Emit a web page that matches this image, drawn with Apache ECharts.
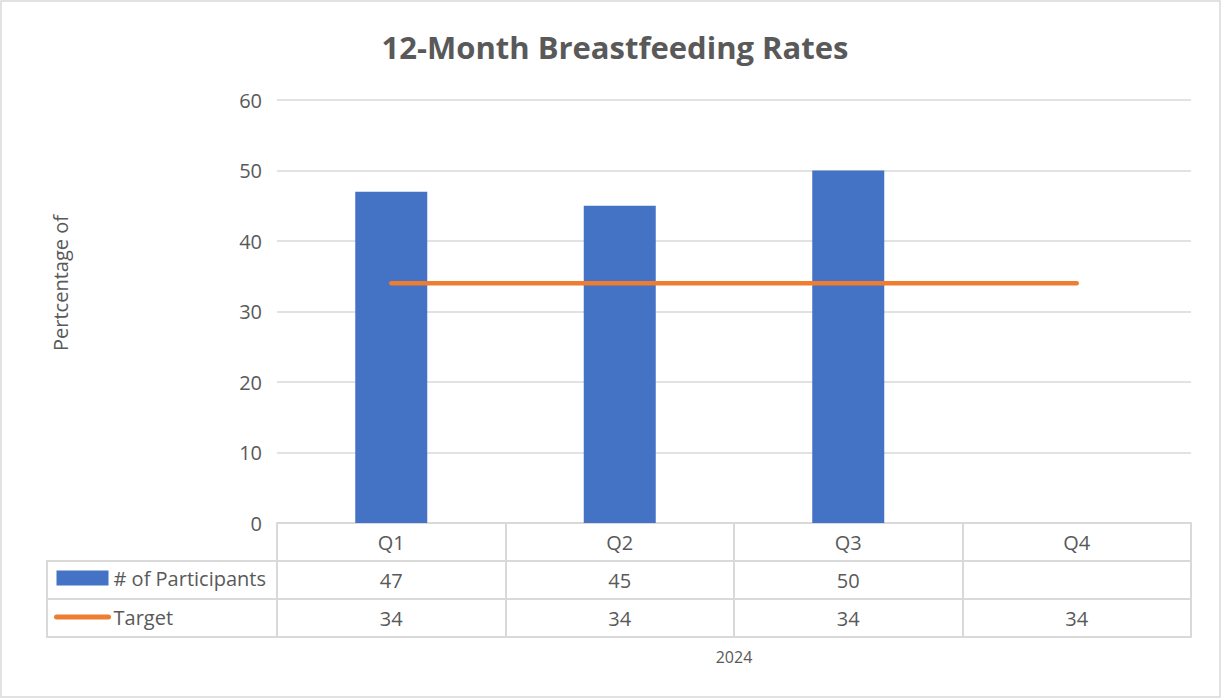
<!DOCTYPE html>
<html>
<head>
<meta charset="utf-8">
<title>12-Month Breastfeeding Rates</title>
<script src="https://cdn.jsdelivr.net/npm/echarts@6/dist/echarts.min.js"></script>
<style>
  html, body { margin: 0; padding: 0; background: #fff; }
  #chart { width: 1230px; height: 700px; }
</style>
</head>
<body>
<div id="chart"></div>
<script>
// data
const quarters = ['Q1', 'Q2', 'Q3', 'Q4']
const participants = [47, 45, 50, null]
const target = [34, 34, 34, 34]
const yTicks = [0, 10, 20, 30, 40, 50, 60]

const FONT = 'Open Sans'
const TEXT = '#595959'
const GRID = '#d9d9d9'

const chart = echarts.init(document.getElementById('chart'), null, { renderer: 'svg' })

// one x axis per data-table row
function tableAxis(offset, labels) {
  return {
    type: 'category',
    position: 'bottom',
    offset: offset,
    data: quarters,
    boundaryGap: true,
    axisLine: { show: true, lineStyle: { color: GRID, width: 2 } },
    axisTick: { show: true, length: 38, interval: 0, lineStyle: { color: GRID, width: 2 } },
    axisLabel: {
      interval: 0,
      margin: 19,
      verticalAlign: 'middle',
      fontFamily: FONT,
      fontSize: 20,
      color: TEXT,
      formatter: (v, i) => (labels[i] == null ? '' : String(labels[i]))
    },
    splitLine: { show: false }
  }
}

const lastAxis = {
  type: 'category',
  position: 'bottom',
  offset: 114,
  data: quarters,
  axisLine: { show: true, lineStyle: { color: GRID, width: 2 } },
  axisTick: { show: false },
  axisLabel: { show: false },
  name: '2024',
  nameLocation: 'middle',
  nameGap: 12,
  nameTextStyle: { fontFamily: FONT, fontSize: 16, color: TEXT }
}

chart.setOption({
  animation: false,
  title: {
    text: '12-Month Breastfeeding Rates',
    left: 610,
    top: 26,
    textAlign: 'center',
    textStyle: { fontFamily: FONT, fontSize: 31, fontWeight: 'bold', color: TEXT }
  },
  legend: {
    orient: 'vertical',
    left: 54,
    top: 568,
    padding: 0,
    itemWidth: 52,
    itemHeight: 15,
    itemGap: 19,
    textStyle: { fontFamily: FONT, fontSize: 20, lineHeight: 20, color: TEXT },
    data: [
      { name: '# of Participants', icon: 'rect' },
      {
        name: 'Target',
        itemStyle: { opacity: 0 },
        lineStyle: { color: '#ed7d31', width: 5, cap: 'round' }
      }
    ]
  },
  grid: { left: 277, right: 39, top: 100, bottom: 177, containLabel: false },
  xAxis: [
    tableAxis(0, quarters),
    tableAxis(38, participants),
    tableAxis(76, target),
    lastAxis
  ],
  yAxis: {
    type: 'value',
    min: yTicks[0],
    max: yTicks[yTicks.length - 1],
    interval: 10,
    axisLine: { show: false },
    axisTick: { show: false },
    axisLabel: { margin: 15, fontFamily: FONT, fontSize: 20, color: TEXT },
    splitLine: { lineStyle: { color: GRID, width: 1.5 } }
  },
  graphic: [
    {
      type: 'rect',
      shape: { x: 1, y: 1, width: 1219, height: 696 },
      style: { fill: 'none', stroke: GRID, lineWidth: 1.5 },
      silent: true
    },
    {
      type: 'text',
      x: 60,
      y: 283,
      rotation: Math.PI / 2,
      style: {
        text: 'Pertcentage of',
        fontFamily: FONT,
        fontSize: 20,
        fill: TEXT,
        align: 'center',
        verticalAlign: 'middle'
      }
    },
    // legend column of the data table
    { type: 'line', shape: { x1: 47, y1: 561, x2: 277, y2: 561 }, style: { stroke: GRID, lineWidth: 2 } },
    { type: 'line', shape: { x1: 47, y1: 599, x2: 277, y2: 599 }, style: { stroke: GRID, lineWidth: 2 } },
    { type: 'line', shape: { x1: 47, y1: 637, x2: 277, y2: 637 }, style: { stroke: GRID, lineWidth: 2 } },
    { type: 'line', shape: { x1: 47, y1: 560, x2: 47, y2: 638 }, style: { stroke: GRID, lineWidth: 2 } }
  ],
  series: [
    {
      name: '# of Participants',
      type: 'bar',
      xAxisIndex: 0,
      barWidth: 72,
      itemStyle: { color: '#4472c4' },
      data: participants
    },
    {
      name: 'Target',
      type: 'line',
      xAxisIndex: 0,
      symbol: 'none',
      z: 3,
      itemStyle: { color: '#ed7d31' },
      lineStyle: { color: '#ed7d31', width: 4.5, cap: 'round' },
      data: target
    }
  ]
})
</script>
</body>
</html>
